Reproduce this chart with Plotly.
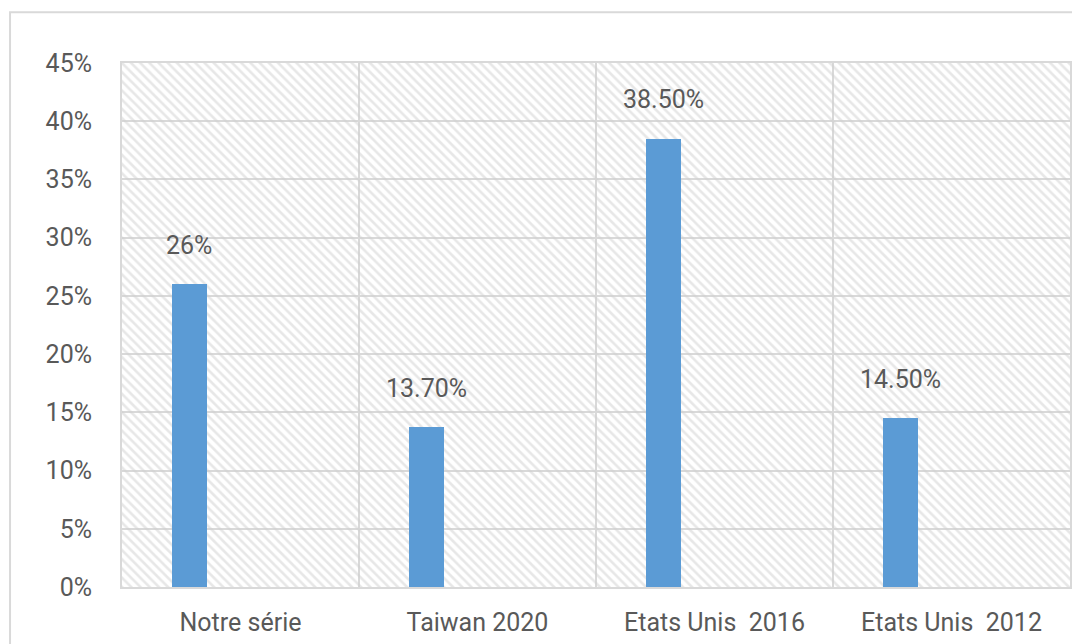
import plotly.graph_objects as go

# Categories and values (fraction of 1)
categories = ["Notre série", "Taiwan 2020", "Etats Unis \u00a02016", "Etats Unis \u00a02012"]
values = [0.26, 0.137, 0.385, 0.145]
value_labels = ["26%", "13.70%", "38.50%", "14.50%"]

# Axis settings
y_max = 0.45
y_step = 0.05

bar_color = "#5b9bd5"
grid_color = "#d9d9d9"
text_color = "#595959"
font_family = "Roboto, Liberation Sans, sans-serif"

bar_width = 0.15
bar_offset = -0.291

fig = go.Figure()

# Hatched plot-area background, one full-width block per category
fig.add_trace(go.Bar(
    x=categories,
    y=[y_max] * len(categories),
    width=1,
    offset=-0.5,
    marker=dict(
        color="rgba(0,0,0,0)",
        line=dict(width=0),
        pattern=dict(shape="\\", size=6.5, solidity=0.4,
                     fgcolor="#cfcfcf", bgcolor="rgba(0,0,0,0)", fillmode="overlay"),
    ),
    hoverinfo="skip",
    showlegend=False,
))

# Data bars
fig.add_trace(go.Bar(
    x=categories,
    y=values,
    width=bar_width,
    offset=bar_offset,
    marker=dict(color=bar_color, line=dict(width=0)),
    showlegend=False,
))

# Value labels above each bar
for i, (v, lab) in enumerate(zip(values, value_labels)):
    fig.add_annotation(
        x=i + bar_offset + bar_width / 2, y=v,
        text=lab, showarrow=False,
        yanchor="middle", yshift=39,
        font=dict(family=font_family, size=25, color=text_color),
    )

# Outer chart frame
fig.add_shape(
    type="rect", xref="paper", yref="paper",
    x0=-0.1181, x1=1.02, y0=-0.16, y1=1.0968,
    line=dict(color="#d9d9d9", width=2),
    fillcolor="rgba(0,0,0,0)", layer="below",
)

fig.update_layout(
    width=1072, height=644,
    margin=dict(l=122, r=2, t=63, b=57, autoexpand=False),
    paper_bgcolor="white",
    plot_bgcolor="white",
    barmode="overlay",
    bargap=0,
    font=dict(family=font_family, color=text_color),
)

fig.update_xaxes(
    type="category",
    tickson="boundaries",
    showgrid=True, gridcolor=grid_color, gridwidth=1.5,
    showline=True, linecolor=grid_color, linewidth=2, mirror=True,
    ticks="", ticklabelstandoff=12,
    tickfont=dict(family=font_family, size=25, color=text_color),
    range=[-0.5, len(categories) - 0.5],
)

fig.update_yaxes(
    range=[0, y_max], dtick=y_step, tickformat=".0%",
    showgrid=True, gridcolor=grid_color, gridwidth=1.5,
    showline=True, linecolor=grid_color, linewidth=2, mirror=True,
    zeroline=False,
    ticks="", ticklabelstandoff=23,
    tickfont=dict(family=font_family, size=25, color=text_color),
)

fig.write_html("out.html")
